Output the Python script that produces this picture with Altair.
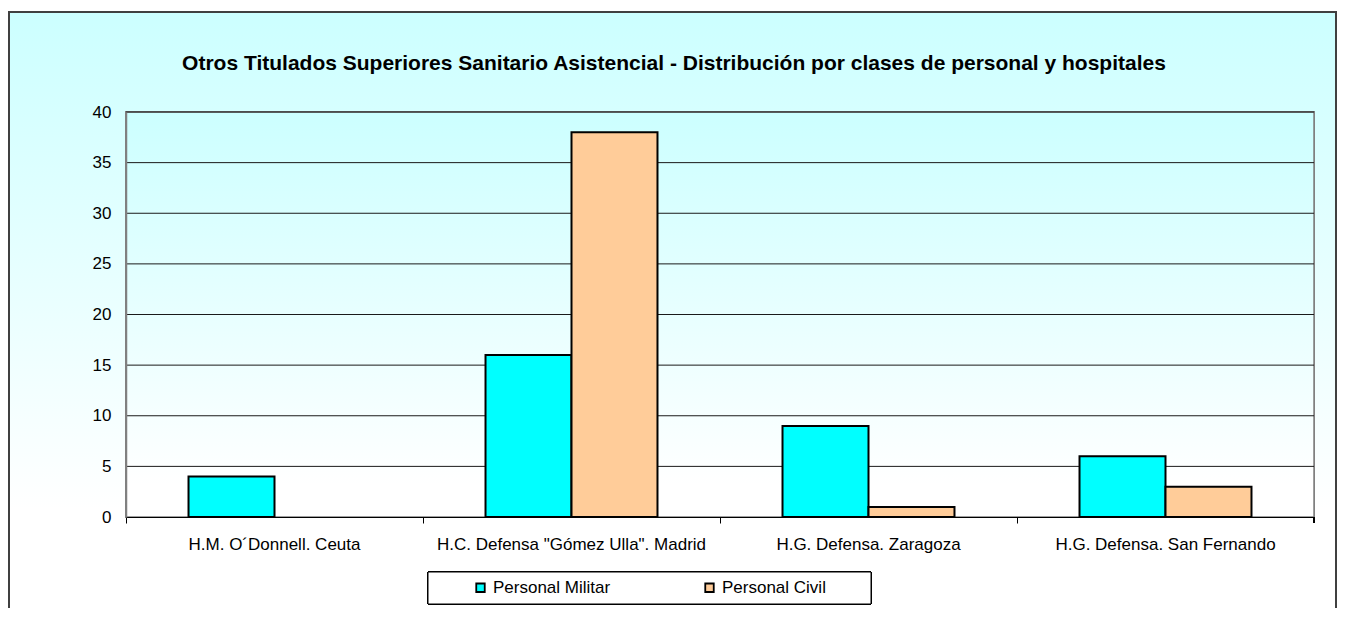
import altair as alt
import pandas as pd

hospitals = [
    "H.M. O\u00b4Donnell. Ceuta",
    'H.C. Defensa "G\u00f3mez Ulla". Madrid',
    "H.G. Defensa. Zaragoza",
    "H.G. Defensa. San Fernando",
]
militar = [4, 16, 9, 6]
civil = [0, 38, 1, 3]
series = ["Personal Militar", "Personal Civil"]
series_colors = ["#00FFFF", "#FFCC99"]
grid_values = [5, 10, 15, 20, 25, 30, 35, 40]
y_ticks = [0, 5, 10, 15, 20, 25, 30, 35, 40]
title_text = "Otros Titulados Superiores Sanitario Asistencial - Distribuci\u00f3n por clases de personal y hospitales"

rows = []
for h, m, c in zip(hospitals, militar, civil):
    rows.append({"hospital": h, "serie": series[0], "valor": m})
    rows.append({"hospital": h, "serie": series[1], "valor": c})
df = pd.DataFrame(rows)
grid_df = pd.DataFrame({"g": grid_values})
title_df = pd.DataFrame({"t": [title_text]})

W, H = 1188, 405
PAD_L, PAD_T, PAD_R, PAD_B = 118, 104, 23, 91
FONT = "Liberation Sans"

frame_grad = alt.LinearGradient(
    gradient="linear", x1=0, x2=0, y1=0, y2=1,
    stops=[alt.GradientStop(color="#CCFFFF", offset=0),
           alt.GradientStop(color="#FFFFFF", offset=0.82)],
)
plot_grad = alt.LinearGradient(
    gradient="linear", x1=0, x2=0, y1=0, y2=1,
    stops=[alt.GradientStop(color="#CCFFFF", offset=0),
           alt.GradientStop(color="#FFFFFF", offset=0.92)],
)

base = alt.Chart(df)

frame = base.mark_rect(fill=frame_grad, stroke="#404040", strokeWidth=2).encode(
    x=alt.value(-117), x2=alt.value(W + PAD_R - 1),
    y=alt.value(-100), y2=alt.value(H + PAD_B + 10),
)
plotbg = base.mark_rect(fill=plot_grad, stroke="#808080", strokeWidth=1.5).encode(
    x=alt.value(0), x2=alt.value(W), y=alt.value(0), y2=alt.value(H),
)
legend_box = base.mark_rect(fill="white", stroke="black", strokeWidth=1).encode(
    x=alt.value(302), x2=alt.value(745), y=alt.value(460), y2=alt.value(492),
)

title = alt.Chart(title_df).mark_text(
    font=FONT, fontSize=21, fontWeight="bold", color="black",
    align="center", baseline="alphabetic",
).encode(text="t:N", x=alt.value(548), y=alt.value(-42))

yscale = alt.Scale(domain=[0, 40], nice=False)

grid = alt.Chart(grid_df).mark_rule(color="#1a1a1a", strokeWidth=1).encode(
    y=alt.Y("g:Q", scale=yscale),
    x=alt.value(0), x2=alt.value(W),
)

bars = base.transform_filter("datum.valor > 0").mark_bar(
    stroke="black", strokeWidth=2
).encode(
    x=alt.X(
        "hospital:N", sort=hospitals, title=None,
        scale=alt.Scale(paddingInner=0, paddingOuter=0),
        axis=alt.Axis(
            labelAngle=0, bandPosition=0, tickSize=6, tickColor="black",
            tickWidth=1, domainColor="black", domainWidth=1.2, labelPadding=13,
            labelFontSize=17, labelColor="black", grid=False, zindex=1,
            labelFont=FONT, labelLimit=500,
        ),
    ),
    xOffset=alt.XOffset("serie:N", sort=series,
                        scale=alt.Scale(paddingInner=0, paddingOuter=0.727)),
    y=alt.Y(
        "valor:Q", scale=yscale, title=None,
        axis=alt.Axis(values=y_ticks, ticks=False, labelPadding=15,
                      labelFontSize=17, labelColor="black", grid=False,
                      domainColor="#808080", domainWidth=1.5, zindex=1,
                      labelFont=FONT),
    ),
    color=alt.Color(
        "serie:N", sort=series,
        scale=alt.Scale(domain=series, range=series_colors),
        legend=alt.Legend(
            title=None, orient="none", legendX=346, legendY=467,
            direction="horizontal", symbolType="square", symbolSize=72,
            symbolStrokeColor="black", symbolStrokeWidth=1.8,
            labelFontSize=17, labelFont=FONT, labelColor="black",
            labelOffset=4, columnPadding=90, padding=0,
        ),
    ),
)

last_tick = base.mark_rule(color="black", strokeWidth=1).encode(
    x=alt.value(W), y=alt.value(H), y2=alt.value(H + 6),
)

chart = alt.layer(frame, plotbg, legend_box, title, grid, bars, last_tick).properties(
    width=W, height=H,
    autosize=alt.AutoSizeParams(type="none"),
    padding={"left": PAD_L, "top": PAD_T, "right": PAD_R, "bottom": PAD_B},
    background="white",
).configure_view(stroke=None)

chart.save("out.html", embed_options={"renderer": "svg", "actions": False})
